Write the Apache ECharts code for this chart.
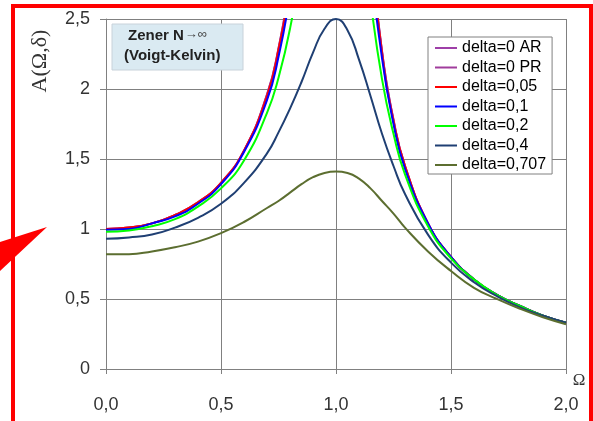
<!DOCTYPE html>
<html>
<head>
<meta charset="utf-8">
<script src="https://cdn.jsdelivr.net/npm/echarts@6/dist/echarts.min.js"></script>
<style>
	html, body { margin: 0; padding: 0; background: #fff; }
	#echart { width: 593px; height: 421px; }
</style>
</head>
<body>
<div id="echart"></div>
<script>
	// Omega values (x axis)
	var omega = [0, 0.1, 0.2, 0.3, 0.4, 0.5, 0.6, 0.7, 0.75, 0.8, 0.85, 0.9, 0.95, 1.0,
		1.05, 1.1, 1.15, 1.2, 1.25, 1.3, 1.4, 1.5, 1.6, 1.7, 1.8, 1.9, 2.0];

	var seriesNames = ['delta=0 AR', 'delta=0 PR', 'delta=0,05', 'delta=0,1', 'delta=0,2', 'delta=0,4', 'delta=0,707'];
	var seriesColors = ['#9E3FA8', '#A03C9C', '#FF0000', '#0000FF', '#00FF00', '#1F3F73', '#5C6E30'];

	// values (above 2.5 = leaves the plot)
	var d0AR = [1.00, 1.01, 1.04, 1.10, 1.19, 1.33, 1.56, 1.96, 2.29, 2.78, 3.60, 5.26, 10.3, null,
		9.8, 4.76, 3.10, 2.27, 1.78, 1.45, 1.04, 0.80, 0.64, 0.53, 0.45, 0.38, 0.33];
	var d0PR = [1.00, 1.01, 1.04, 1.10, 1.19, 1.33, 1.56, 1.96, 2.29, 2.78, 3.60, 5.26, 10.3, null,
		9.8, 4.76, 3.10, 2.27, 1.78, 1.45, 1.04, 0.80, 0.64, 0.53, 0.45, 0.38, 0.33];
	var d005 = [1.00, 1.01, 1.04, 1.10, 1.19, 1.33, 1.56, 1.95, 2.28, 2.75, 3.55, 5.09, 9.13, 20,
		8.77, 4.63, 3.06, 2.26, 1.77, 1.45, 1.04, 0.80, 0.64, 0.53, 0.45, 0.38, 0.33];
	var d01 = [0.995, 1.00, 1.04, 1.09, 1.18, 1.32, 1.55, 1.92, 2.23, 2.68, 3.39, 4.66, 7.16, 10,
		6.98, 4.30, 2.96, 2.22, 1.75, 1.43, 1.04, 0.80, 0.64, 0.53, 0.45, 0.38, 0.33];
	var d02 = [0.98, 0.99, 1.02, 1.07, 1.16, 1.29, 1.49, 1.83, 2.08, 2.43, 2.92, 3.62, 4.49, 5.0,
		4.45, 3.45, 2.64, 2.07, 1.68, 1.39, 1.02, 0.79, 0.64, 0.53, 0.45, 0.38, 0.33];
	var d04 = [0.93, 0.94, 0.96, 1.01, 1.08, 1.18, 1.33, 1.54, 1.69, 1.86, 2.05, 2.26, 2.43, 2.5,
		2.42, 2.21, 1.95, 1.68, 1.45, 1.25, 0.96, 0.76, 0.62, 0.52, 0.44, 0.38, 0.33];
	var d0707 = [0.82, 0.82, 0.84, 0.87, 0.91, 0.97, 1.05, 1.15, 1.20, 1.26, 1.32, 1.37, 1.40, 1.41,
		1.40, 1.36, 1.29, 1.20, 1.11, 1.01, 0.84, 0.70, 0.58, 0.50, 0.43, 0.37, 0.32];

	var allValues = [d0AR, d0PR, d005, d01, d02, d04, d0707];

	var xTicks = ['0,0', '0,5', '1,0', '1,5', '2,0'];
	var yTicks = ['0', '0,5', '1', '1,5', '2', '2,5'];

	var myChart = echarts.init(document.getElementById('echart'));

	var series = seriesNames.map(function (name, i) {
		return {
			name: name,
			type: 'line',
			data: omega.map(function (x, j) { return [x, allValues[i][j]]; }),
			smooth: true,
			showSymbol: false,
			clip: true,
			connectNulls: false,
			lineStyle: { color: seriesColors[i], width: 2 },
			itemStyle: { color: seriesColors[i] }
		};
	});

	myChart.setOption({
		animation: false,
		backgroundColor: '#fff',
		grid: { left: 106, right: 27, top: 19, bottom: 52, containLabel: false },
		legend: {
			orient: 'vertical',
			left: 428,
			top: 37,
			width: 127,
			padding: [3, 6, 1, 7],
			backgroundColor: '#fff',
			borderColor: '#808080',
			borderWidth: 1,
			borderRadius: 0,
			itemGap: 3.5,
			itemWidth: 22,
			itemHeight: 2,
			icon: 'rect',
			textStyle: { fontFamily: 'Liberation Sans', fontSize: 16, color: '#000', lineHeight: 15 },
			data: seriesNames
		},
		xAxis: {
			type: 'value',
			min: 0,
			max: 2,
			interval: 0.5,
			axisLine: { show: true, onZero: false, lineStyle: { color: '#808080', width: 1 } },
			axisTick: { show: true, inside: false, length: 5, lineStyle: { color: '#808080' } },
			splitLine: { show: true, lineStyle: { color: '#808080', width: 1 } },
			axisLabel: {
				margin: 27,
				fontFamily: 'Liberation Sans',
				fontSize: 18,
				color: '#333',
				formatter: function (v) { return xTicks[Math.round(v / 0.5)]; }
			}
		},
		yAxis: {
			type: 'value',
			min: 0,
			max: 2.5,
			interval: 0.5,
			axisLine: { show: true, lineStyle: { color: '#808080', width: 1 } },
			axisTick: { show: true, inside: false, length: 6, lineStyle: { color: '#808080' } },
			splitLine: { show: true, lineStyle: { color: '#808080', width: 1 } },
			axisLabel: {
				margin: 16,
				fontFamily: 'Liberation Sans',
				fontSize: 18,
				color: '#333',
				formatter: function (v) { return yTicks[Math.round(v / 0.5)]; }
			}
		},
		graphic: [
			{ // red frame
				type: 'rect',
				z: 100,
				shape: { x: 13, y: 6, width: 578, height: 500 },
				style: { fill: null, stroke: '#FF0000', lineWidth: 4 }
			},
			{ // red arrow
				type: 'polygon',
				z: 100,
				shape: { points: [[47, 227], [0, 242], [0, 271]] },
				style: { fill: '#FF0000' }
			},
			{ // text box
				type: 'rect',
				z: 50,
				shape: { x: 112, y: 24, width: 131, height: 46 },
				style: { fill: '#DAEAF2', stroke: '#C8D2DA', lineWidth: 1 }
			},
			{
				type: 'text',
				z: 51,
				left: 128,
				top: 28,
				style: {
					text: '{b|Zener N}{s|→∞}',
					rich: {
						b: { fontFamily: 'Liberation Sans', fontSize: 15, fontWeight: 'bold', fill: '#222' },
						s: { fontFamily: 'Liberation Sans', fontSize: 13, fill: '#444', padding: [0, 0, 3, 1] }
					}
				}
			},
			{
				type: 'text',
				z: 51,
				left: 124,
				top: 48,
				style: {
					text: '(Voigt-Kelvin)',
					fontFamily: 'Liberation Sans',
					fontSize: 15,
					fontWeight: 'bold',
					fill: '#222'
				}
			},
			{ // y axis name
				type: 'text',
				z: 51,
				x: 40,
				y: 61,
				rotation: Math.PI / 2,
				style: {
					text: 'A(Ω,δ)',
					fontFamily: 'Liberation Serif',
					fontSize: 22,
					fill: '#333',
					align: 'center',
					verticalAlign: 'middle'
				}
			},
			{ // x axis name
				type: 'text',
				z: 51,
				x: 579,
				y: 381,
				style: {
					text: 'Ω',
					fontFamily: 'Liberation Serif',
					fontSize: 17,
					fill: '#333',
					align: 'center',
					verticalAlign: 'middle'
				}
			}
		],
		series: series
	});
</script>
</body>
</html>
